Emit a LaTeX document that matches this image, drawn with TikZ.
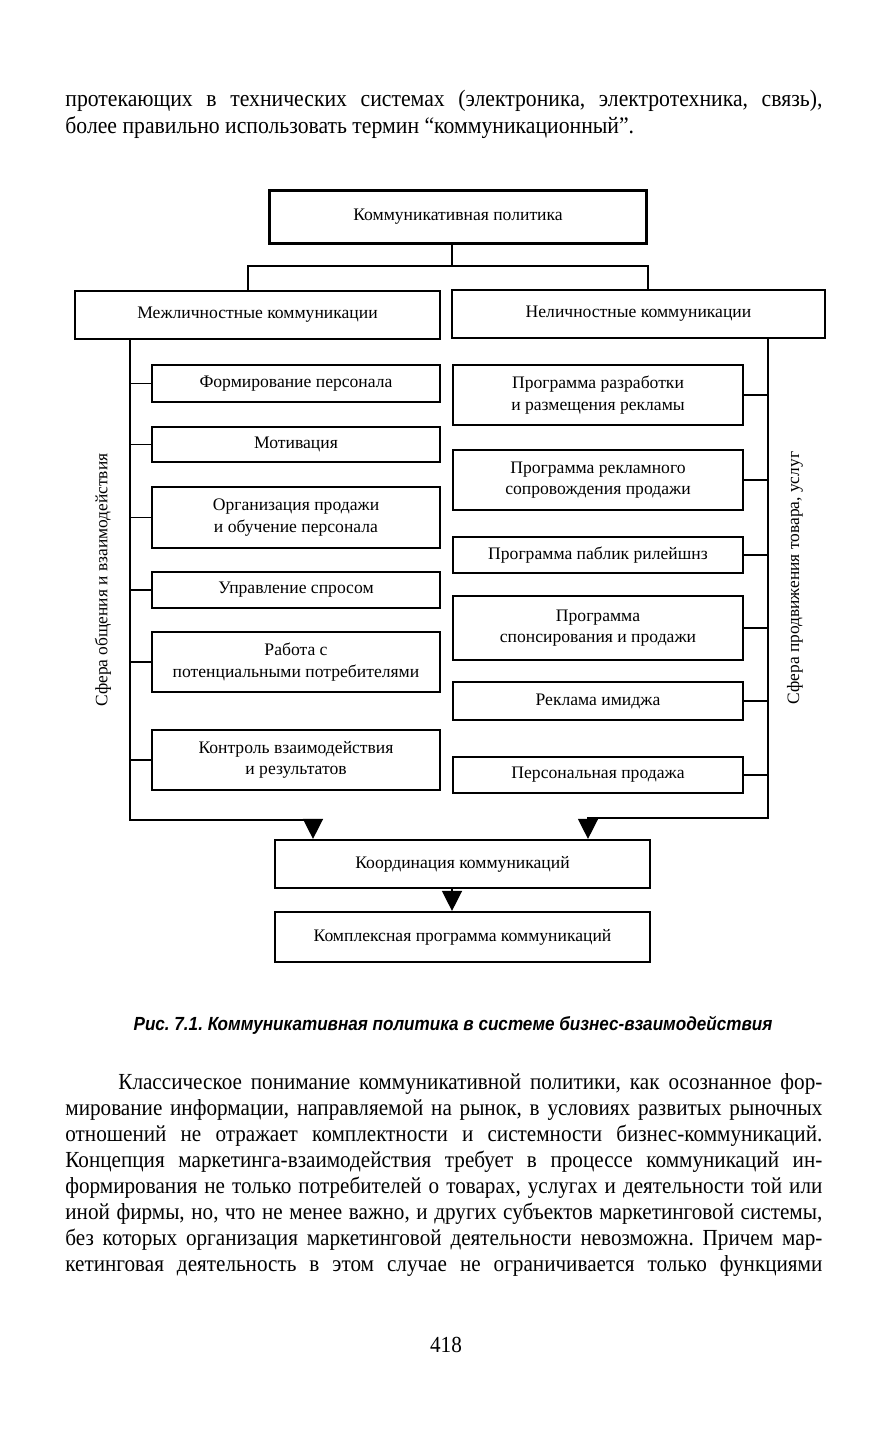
\documentclass[tikz,border=0pt]{standalone}
\usepackage{fontspec}
\setmainfont{Liberation Serif}
\newfontfamily\bodyfont[FakeStretch=0.92]{Liberation Serif}
\newfontfamily\capfont[FakeStretch=0.9]{Liberation Sans}
\usetikzlibrary{positioning, arrows.meta}
\newcommand{\jline}[1]{\makebox[378.5pt][s]{#1}}
\frenchspacing

\begin{document}
\begin{tikzpicture}[x=0.5pt, y=-0.5pt,
    box/.style={draw, line width=1.1pt, align=center, inner sep=2pt,
      font=\fontsize{8.8}{10.8}\selectfont},
    lbox/.style={box, minimum width=144pt},
    rbox/.style={box, minimum width=145pt},
    link/.style={line width=0.7pt},
    arr/.style={line width=0.7pt, -{Triangle[width=10pt,length=10pt]}},
    side/.style={rotate=90, font=\fontsize{8.7}{10}\selectfont},
    para/.style={anchor=north west, align=left, inner sep=0pt,
      font={\fontsize{11.5}{13}\bodyfont}}]
  \fill[white] (0,0) rectangle (886,1440);
  \useasboundingbox (0,0) rectangle (886,1440);

  % text above
  \node[para, font={\fontsize{11.8}{13.5}\bodyfont}] (txtA) at (65,90) {\jline{протекающих в технических системах (электроника, электротехника, связь),}\\
    более правильно использовать термин “коммуникационный”.};

  % top levels
  \node[box, minimum width=188.5pt, minimum height=26.5pt] (pol) at (458,217) {Коммуникативная политика};
  \node[box, minimum width=182.5pt, minimum height=24pt] (mezh) at (257.5,315) {Межличностные коммуникации};
  \node[box, minimum width=186.5pt, minimum height=24pt] (nelich) at (638.5,314) {Неличностные коммуникации};

  % left column
  \node[lbox, minimum height=18.5pt] (l1) at (296,383.5) {Формирование персонала};
  \node[lbox, minimum height=17.5pt] (l2) at (296,444.5) {Мотивация};
  \node[lbox, minimum height=30.5pt] (l3) at (296,517.5) {Организация продажи\\ и обучение персонала};
  \node[lbox, minimum height=18pt] (l4) at (296,590) {Управление спросом};
  \node[lbox, minimum height=30pt] (l5) at (296,662) {Работа с\\ потенциальными потребителями};
  \node[lbox, minimum height=30pt] (l6) at (296,760) {Контроль взаимодействия\\ и результатов};

  % right column
  \node[rbox, minimum height=30pt] (r1) at (598,395) {Программа разработки\\ и размещения рекламы};
  \node[rbox, minimum height=30pt] (r2) at (598,480) {Программа рекламного\\ сопровождения продажи};
  \node[rbox, minimum height=18pt] (r3) at (598,555) {Программа паблик рилейшнз};
  \node[rbox, minimum height=32pt] (r4) at (598,628) {Программа\\ спонсирования и продажи};
  \node[rbox, minimum height=19pt] (r5) at (598,701) {Реклама имиджа};
  \node[rbox, minimum height=18pt] (r6) at (598,775) {Персональная продажа};

  \node[side] (sfL) at (103,580) {Сфера общения и взаимодействия};
  \node[side] (sfR) at (795,578) {Сфера продвижения товара, услуг};

  % bottom boxes
  \node[box, minimum width=187.5pt, minimum height=24pt] (koord) at (462.5,864) {Координация коммуникаций};
  \node[box, minimum width=187.5pt, minimum height=25pt] (kompl) at (462.5,937) {Комплексная программа коммуникаций};

  % tree
  \coordinate (pj) at (452,266);
  \coordinate (bl) at (248,266);
  \coordinate (br) at (648,266);
  \draw[link] (pol.south -| pj) -- (pj);
  \draw[link] (mezh.north -| bl) -- (bl) -- (br) -- (nelich.north -| br);

  % trunks
  \coordinate (lc) at (130,820);
  \coordinate (rc) at (768,818);
  \draw[arr] (mezh.south -| lc) -- (lc) -| ([xshift=-74.75pt]koord.north);
  \draw[arr] (nelich.south -| rc) -- (rc) -| ([xshift=62.75pt]koord.north);
  \foreach \n in {l1,l2,l3,l4,l5,l6}
    \draw[link] (lc |- \n.west) -- (\n.west);
  \foreach \n in {r1,r2,r3,r4,r5,r6}
    \draw[link] (\n.east) -- (rc |- \n.east);
  \draw[arr] (koord.south -| pj) -- (kompl.north -| pj);

  % caption
  \node[font={\fontsize{9.5}{11}\capfont\bfseries\itshape}] (cap) at (453,1025)
    {Рис. 7.1. Коммуникативная политика в системе бизнес-взаимодействия};

  % text below
  \node[para] (txtB) at (65,1073) {\jline{\hspace*{26.5pt}Классическое понимание коммуникативной политики, как осознанное фор-}\\
    \jline{мирование информации, направляемой на рынок, в условиях развитых рыночных}\\
    \jline{отношений не отражает комплектности и системности бизнес-коммуникаций.}\\
    \jline{Концепция маркетинга-взаимодействия требует в процессе коммуникаций ин-}\\
    \jline{формирования не только потребителей о товарах, услугах и деятельности той или}\\
    \jline{иной фирмы, но, что не менее важно, и других субъектов маркетинговой системы,}\\
    \jline{без которых организация маркетинговой деятельности невозможна. Причем мар-}\\
    \jline{кетинговая деятельность в этом случае не ограничивается только функциями}};

  \node[font={\fontsize{11.5}{13}\bodyfont}] (pnum) at (446,1345) {418};
\end{tikzpicture}
\end{document}
